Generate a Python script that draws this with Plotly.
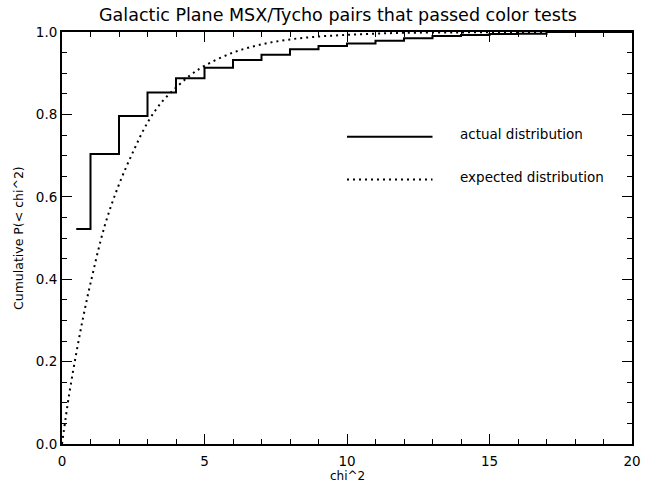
import plotly.graph_objects as go

# Actual distribution (step function, value holds until next x)
actual_x = [0.5, 1, 2, 3, 4, 5, 6, 7, 8, 9, 10, 11, 12, 13, 14, 15, 16, 17, 20]
actual_y = [0.522, 0.704, 0.796, 0.853, 0.888, 0.913, 0.932, 0.945, 0.958, 0.966,
            0.972, 0.979, 0.985, 0.990, 0.993, 0.995, 0.996, 1.0, 1.0]

# Expected distribution
expected_x = [0, 0.25, 0.5, 0.75, 1, 1.5, 2, 2.5, 3, 3.5, 4, 4.5, 5, 6, 7, 8, 9,
              10, 11, 12, 14, 16, 18, 20]
expected_y = [0, 0.12, 0.22, 0.31, 0.39, 0.53, 0.63, 0.71, 0.78, 0.83, 0.865, 0.895,
              0.918, 0.95, 0.97, 0.982, 0.989, 0.993, 0.996, 0.998, 0.999, 1.0, 1.0, 1.0]

x_ticks = [0, 5, 10, 15, 20]
y_ticks = [0, 0.2, 0.4, 0.6, 0.8, 1.0]
legend_labels = ["actual distribution", "expected distribution"]
title_text = "Galactic Plane MSX/Tycho pairs that passed color tests"
x_title = "chi^2"
y_title = "Cumulative P(< chi^2)"

FONT = "DejaVu Sans"
DOT = "2px,4px"

fig = go.Figure()
fig.add_trace(go.Scatter(x=actual_x, y=actual_y, mode="lines",
                         line=dict(color="black", width=2, shape="hv"),
                         name=legend_labels[0], showlegend=False))
fig.add_trace(go.Scatter(x=expected_x, y=expected_y, mode="lines",
                         line=dict(color="black", width=2, shape="spline", dash=DOT),
                         name=legend_labels[1], showlegend=False))

# In-plot legend
leg_rows = [(0.746, 0.753, "solid"), (0.642, 0.649, DOT)]
for (ly, ty, dash), lab in zip(leg_rows, legend_labels):
    fig.add_shape(type="line", xref="x", yref="y", x0=10, x1=13, y0=ly, y1=ly,
                  line=dict(color="black", width=2, dash=dash))
    fig.add_annotation(x=13.9, y=ty, xref="x", yref="y", text=lab, showarrow=False,
                       xanchor="left", yanchor="middle",
                       font=dict(family=FONT, size=13.5, color="black"))

# Axis titles
fig.add_annotation(x=0.5, y=-32 / 412, xref="paper", yref="paper", text=x_title,
                   showarrow=False, xanchor="center", yanchor="middle",
                   font=dict(family=FONT, size=12, color="black"))
fig.add_annotation(x=-44 / 570, y=0.5, xref="paper", yref="paper", text=y_title,
                   showarrow=False, xanchor="center", yanchor="middle", textangle=-90,
                   font=dict(family=FONT, size=12.5, color="black"))

axis_common = dict(showline=True, linecolor="black", linewidth=2, mirror="allticks",
                   ticks="inside", tickcolor="black", tickwidth=1, ticklen=10,
                   showgrid=False, zeroline=False, automargin=False,
                   tickfont=dict(family=FONT, size=13.5, color="black"))

fig.update_xaxes(range=[0, 20], tickmode="array", tickvals=x_ticks,
                 ticktext=[str(v) for v in x_ticks], ticklabelstandoff=4,
                 minor=dict(ticks="inside", ticklen=5, tickcolor="black", tickwidth=1,
                            dtick=1, showgrid=False),
                 **axis_common)
fig.update_yaxes(range=[0, 1], tickmode="array", tickvals=y_ticks,
                 ticktext=["%.1f" % v for v in y_ticks],
                 minor=dict(ticks="inside", ticklen=5, tickcolor="black", tickwidth=1,
                            dtick=0.05, showgrid=False),
                 **axis_common)

fig.update_layout(
    width=645, height=488,
    margin=dict(l=62, r=13, t=32, b=44, autoexpand=False),
    paper_bgcolor="white", plot_bgcolor="white",
    title=dict(text=title_text, x=338 / 645, xanchor="center", y=1 - 15 / 488,
               yanchor="middle", yref="container",
               font=dict(family=FONT, size=17.5, color="black")),
    showlegend=False,
)

fig.write_html("out.html",
               config={"displayModeBar": False},
               post_script="document.body.style.margin='0px';"
                           "document.body.style.overflow='hidden';")
